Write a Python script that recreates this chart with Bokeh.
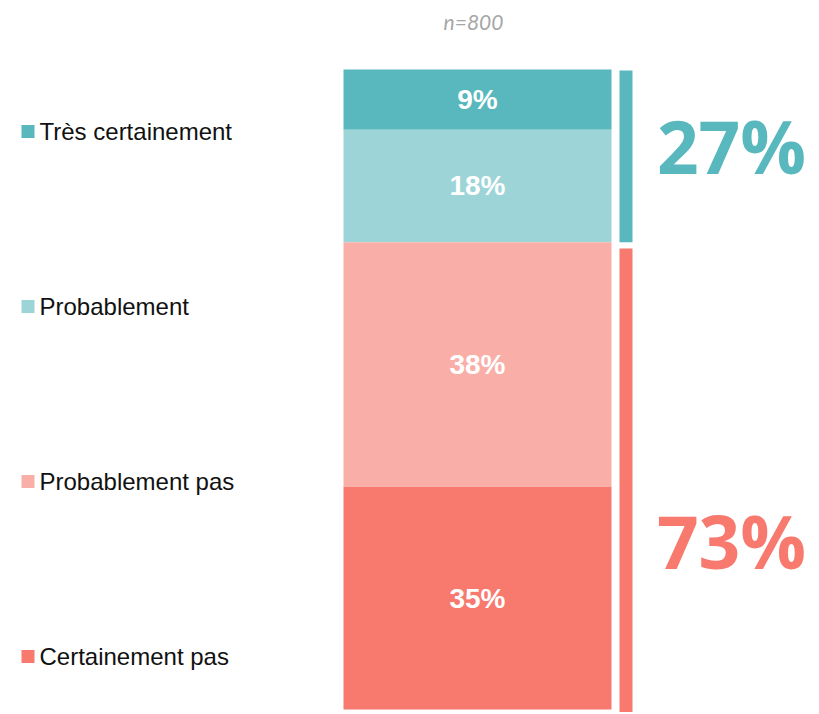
from bokeh.plotting import figure
from bokeh.models import Range1d, ColumnDataSource
from bokeh.core.properties import value
from bokeh.embed import file_html
from bokeh.resources import INLINE
import numpy as np

# ---------------- data ----------------
categories = ["Très certainement", "Probablement", "Probablement pas", "Certainement pas"]
shares = [9.4, 17.6, 38.2, 34.8]
share_labels = ["9%", "18%", "38%", "35%"]
group_names = ["Oui", "Non"]
group_totals = [27.0, 73.0]
group_labels = ["27%", "73%"]
sample_note = "n=800"

# ---------------- styles ----------------
colors = ["#58B8BD", "#9CD4D8", "#F9AFA8", "#F8796E"]
group_colors = ["#58B8BD", "#F8796E"]

W, H = 819, 714
scale = 6.4                  # px per percent
top_px = 69                  # px from top of figure where 0% sits
top_val = -top_px / scale
bottom_val = top_val + H / scale


def px_to_y(px):
    return (px - top_px) / scale


p = figure(width=W, height=H, x_range=Range1d(0, W),
           y_range=Range1d(bottom_val, top_val),
           output_backend="svg", toolbar_location=None, min_border=0,
           x_axis_type=None, y_axis_type=None, outline_line_color=None)
p.grid.visible = False
p.background_fill_color = "white"
p.border_fill_color = "white"

# main stacked bar
ends = np.cumsum(shares)
starts = ends - np.array(shares)
src = ColumnDataSource(dict(start=starts, end=ends, mid=(starts + ends) / 2,
                            color=colors, label=share_labels, cat=categories))
bar_l, bar_r = 343, 611
p.quad(left=bar_l, right=bar_r, top="start", bottom="end", fill_color="color",
       line_color=None, source=src)
p.text(x=(bar_l + bar_r) / 2, y="mid", text="label", source=src,
       text_color="white", text_font=value("Liberation Sans"), text_font_style="bold",
       text_font_size="28px", text_align="center", text_baseline="middle")

# side group bars
g_end = np.cumsum(group_totals)
g_start = g_end - np.array(group_totals)
gap = 0.95
g_top = [g_start[0] + 0.15, g_start[1] + gap]
g_bot = [g_end[0], g_end[1] + 0.4]
gsrc = ColumnDataSource(dict(top=g_top, bot=g_bot, color=group_colors,
                             label=group_labels, mid=(g_start + g_end) / 2,
                             off=[-10, 65]))
p.quad(left=619, right=632, top="top", bottom="bot", fill_color="color",
       line_color=None, source=gsrc)
p.text(x=731, y="mid", y_offset="off", text="label", source=gsrc,
       text_color="color", text_font=value("Open Sans"), text_font_style="bold",
       text_font_size="73px", text_align="center", text_baseline="middle")

# legend (manual)
leg_y = [px_to_y(131 + i * 175) for i in range(len(categories))]
lsrc = ColumnDataSource(dict(y=leg_y, color=colors, cat=categories))
p.scatter(x=27.5, y="y", marker="square", size=13, fill_color="color",
          line_color=None, source=lsrc)
p.text(x=39, y="y", text="cat", source=lsrc, text_color="#111111",
       text_font=value("Liberation Sans"), text_font_size="24px",
       text_align="left", text_baseline="middle")

# sample note
p.text(x=[473], y=[px_to_y(21)], text=[sample_note], text_color="#A6A6A6",
       text_font=value("Lato"), text_font_style="italic", text_font_size="21px",
       text_align="center", text_baseline="middle")

open("out.html", "w").write(file_html(p, INLINE))
